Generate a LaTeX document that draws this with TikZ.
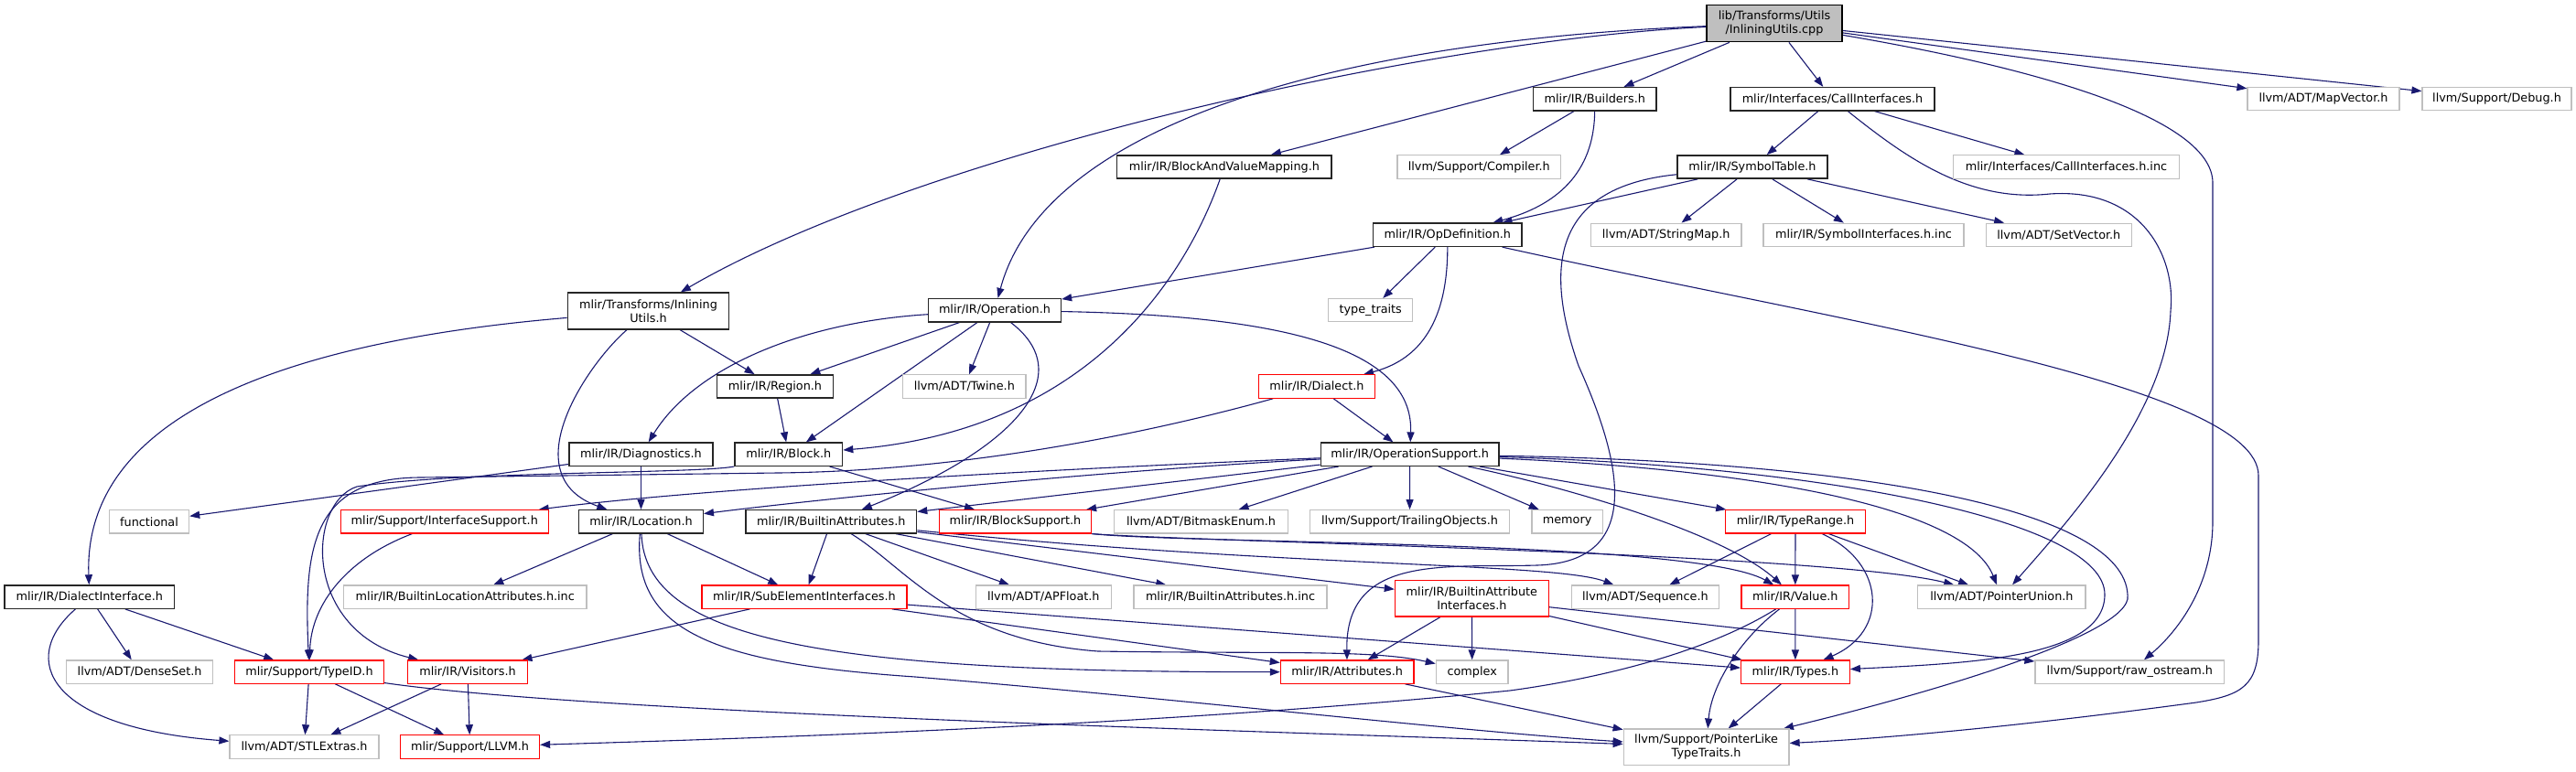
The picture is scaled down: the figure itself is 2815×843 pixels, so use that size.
\documentclass[tikz,border=0pt]{standalone}
\usepackage{fontspec}
\newfontfamily\dvs{DejaVu Sans}
\usetikzlibrary{arrows.meta}
\pgfdeclarelayer{bg}
\pgfsetlayers{bg,main}
\definecolor{edgeblue}{HTML}{191970}
\definecolor{gquarter}{HTML}{262626}
\definecolor{gthree}{HTML}{BFBFBF}
\tikzset{
  nbase/.style={rectangle, inner sep=0pt, minimum height=25.3pt, align=center,
    line width=1.2pt, fill=white, font=\dvs\fontsize{12.8}{15.3}\selectfont},
  blk/.style={nbase, draw=gquarter, line width=1.35pt},
  gry/.style={nbase, draw=gthree},
  rd/.style={nbase, draw=red},
  rootn/.style={nbase, draw=black, line width=1.35pt, fill=gthree},
  edg/.style={draw=edgeblue, line width=1.1pt, -{Triangle[length=11pt, width=8pt]}},
}
\begin{document}
\begin{tikzpicture}[x=1pt,y=-1pt]
\useasboundingbox (0,0) rectangle (2815,843);
% nodes
\node[rootn, minimum width=148pt, minimum height=40pt] (cpp) at (1939,25.7) {lib/Transforms/Utils\\/InliningUtils.cpp};
\node[blk, minimum width=134.5pt] (builders) at (1742.8,108.2) {mlir/IR/Builders.h};
\node[blk, minimum width=223pt] (callif) at (2002.5,108.2) {mlir/Interfaces/CallInterfaces.h};
\node[gry, minimum width=166pt] (mapvec) at (2539,108.2) {llvm/ADT/MapVector.h};
\node[gry, minimum width=163pt] (debug) at (2728.5,108.2) {llvm/Support/Debug.h};
\node[blk, minimum width=234.3pt] (bavm) at (1337.9,182.5) {mlir/IR/BlockAndValueMapping.h};
\node[gry, minimum width=178.5pt] (compiler) at (1616.3,182.5) {llvm/Support/Compiler.h};
\node[blk, minimum width=164pt] (symtab) at (1915,182.5) {mlir/IR/SymbolTable.h};
\node[gry, minimum width=246.6pt] (callinc) at (2258,182.5) {mlir/Interfaces/CallInterfaces.h.inc};
\node[blk, minimum width=162.4pt] (opdef) at (1581.8,256.8) {mlir/IR/OpDefinition.h};
\node[gry, minimum width=164.6pt] (strmap) at (1820.7,256.8) {llvm/ADT/StringMap.h};
\node[gry, minimum width=219pt] (syminc) at (2036.5,256.8) {mlir/IR/SymbolInterfaces.h.inc};
\node[gry, minimum width=159pt] (setvec) at (2249.8,256.8) {llvm/ADT/SetVector.h};
\node[blk, minimum width=176.4pt, minimum height=40pt] (transh) at (708.5,340) {mlir/Transforms/Inlining\\Utils.h};
\node[blk, minimum width=145pt] (operation) at (1087,339.2) {mlir/IR/Operation.h};
\node[gry, minimum width=92.2pt] (typetraits) at (1497.7,339.2) {type\_traits};
\node[blk, minimum width=126.7pt] (region) at (847,422.5) {mlir/IR/Region.h};
\node[gry, minimum width=134.5pt] (twine) at (1053.8,422.5) {llvm/ADT/Twine.h};
\node[rd, minimum width=126.6pt] (dialect) at (1439,422.5) {mlir/IR/Dialect.h};
\node[blk, minimum width=157pt] (diag) at (700.5,496.7) {mlir/IR/Diagnostics.h};
\node[blk, minimum width=117.7pt] (block) at (861.8,496.7) {mlir/IR/Block.h};
\node[blk, minimum width=194.7pt] (opsup) at (1540.7,496.7) {mlir/IR/OperationSupport.h};
\node[gry, minimum width=87.2pt] (functional) at (163,570.3) {functional};
\node[rd, minimum width=226.8pt] (ifsup) at (485.8,570.3) {mlir/Support/InterfaceSupport.h};
\node[blk, minimum width=135.6pt] (location) at (700.5,570.3) {mlir/IR/Location.h};
\node[blk, minimum width=186.7pt] (battr) at (908.3,570.3) {mlir/IR/BuiltinAttributes.h};
\node[rd, minimum width=166.3pt] (blksup) at (1109.5,570.3) {mlir/IR/BlockSupport.h};
\node[gry, minimum width=189.5pt] (bitmask) at (1312.5,570.3) {llvm/ADT/BitmaskEnum.h};
\node[gry, minimum width=217.6pt] (trailing) at (1540.5,570.3) {llvm/Support/TrailingObjects.h};
\node[gry, minimum width=77.2pt] (memory) at (1712.6,570.3) {memory};
\node[rd, minimum width=152.4pt] (typerange) at (1962,570.3) {mlir/IR/TypeRange.h};
\node[blk, minimum width=185.5pt] (dialif) at (97.8,652.6) {mlir/IR/DialectInterface.h};
\node[gry, minimum width=265.4pt] (blocinc) at (508.3,652.6) {mlir/IR/BuiltinLocationAttributes.h.inc};
\node[rd, minimum width=224pt] (subel) at (879,652.6) {mlir/IR/SubElementInterfaces.h};
\node[gry, minimum width=147.8pt] (apfloat) at (1140.3,652.6) {llvm/ADT/APFloat.h};
\node[gry, minimum width=211pt] (battrinc) at (1344.5,652.6) {mlir/IR/BuiltinAttributes.h.inc};
\node[rd, minimum width=168pt, minimum height=39.5pt] (bai) at (1608.4,654.3) {mlir/IR/BuiltinAttribute\\Interfaces.h};
\node[gry, minimum width=161.1pt] (sequence) at (1797.9,652.6) {llvm/ADT/Sequence.h};
\node[rd, minimum width=117.5pt] (value) at (1961.8,652.6) {mlir/IR/Value.h};
\node[gry, minimum width=183.3pt] (ptrunion) at (2187.4,652.6) {llvm/ADT/PointerUnion.h};
\node[gry, minimum width=160.3pt] (denseset) at (152.6,734.6) {llvm/ADT/DenseSet.h};
\node[rd, minimum width=162.5pt] (typeid) at (338,734.6) {mlir/Support/TypeID.h};
\node[rd, minimum width=131pt] (visitors) at (511,734.6) {mlir/IR/Visitors.h};
\node[rd, minimum width=145.7pt] (attrs) at (1472.2,734.6) {mlir/IR/Attributes.h};
\node[gry, minimum width=78.7pt] (complex) at (1608.7,734.6) {complex};
\node[rd, minimum width=118.7pt] (types) at (1961.9,734.6) {mlir/IR/Types.h};
\node[gry, minimum width=206.6pt] (rawos) at (2327.3,734.6) {llvm/Support/raw\_ostream.h};
\node[gry, minimum width=163pt] (stlextras) at (332.5,816.5) {llvm/ADT/STLExtras.h};
\node[rd, minimum width=151.9pt] (llvmh) at (513.6,816.5) {mlir/Support/LLVM.h};
\node[gry, minimum width=180.8pt, minimum height=39.3pt] (ptrlike) at (1864.6,816.7) {llvm/Support/PointerLike\\TypeTraits.h};
% edges
\begin{pgfonlayer}{bg}
\fill[white] (0,0) rectangle (2815,843);
% cpp
\draw[edg] (cpp) .. controls (1550,45) and (1000,170) .. (transh);
\draw[edg] (cpp) .. controls (1450,45) and (1140,140) .. (operation);
\draw[edg] (cpp) -- (bavm);
\draw[edg] (cpp) -- (builders);
\draw[edg] (cpp) -- (callif);
\draw[edg] (cpp) -- (mapvec);
\draw[edg] (cpp) -- (debug);
\draw[edg] (cpp) .. controls (2230,75) and (2418,130) .. (2418,200) -- (2418,570) .. controls (2418,640) and (2380,690) .. (rawos);
% transforms header
\draw[edg] (transh) .. controls (350,370) and (90,440) .. (dialif);
\draw[edg] (transh) -- (region);
\draw[edg] (transh) .. controls (640,400) and (560,520) .. (location);
% operation
\draw[edg] (operation) -- (region);
\draw[edg] (operation) -- (block);
\draw[edg] (operation) -- (twine);
\draw[edg] (operation) .. controls (880,352) and (760,400) .. (diag);
\draw[edg] (operation) .. controls (1400,345) and (1545,380) .. (opsup);
\draw[edg] (operation) .. controls (1180,410) and (1110,490) .. (battr);
% block and value mapping
\draw[edg] (bavm) .. controls (1300,290) and (1200,470) .. (block);
% builders
\draw[edg] (builders) -- (compiler);
\draw[edg] (builders) .. controls (1742,190) and (1700,225) .. (opdef);
% call interfaces
\draw[edg] (callif) -- (symtab);
\draw[edg] (callif) -- (callinc);
\draw[edg] (callif) .. controls (2080,170) and (2150,222) .. (2240,212) .. controls (2340,205) and (2378,280) .. (2372,340) .. controls (2368,450) and (2260,570) .. (ptrunion);
% symbol table
\draw[edg] (symtab) -- (opdef);
\draw[edg] (symtab) -- (strmap);
\draw[edg] (symtab) -- (syminc);
\draw[edg] (symtab) -- (setvec);
\draw[edg] (symtab) .. controls (1690,205) and (1690,300) .. (1725,400) .. controls (1770,500) and (1800,614) .. (1680,618) .. controls (1580,621) and (1470,605) .. (attrs);
% op definition
\draw[edg] (opdef) -- (operation);
\draw[edg] (opdef) -- (typetraits);
\draw[edg] (opdef) .. controls (1582,360) and (1545,395) .. (dialect);
\draw[edg] (opdef) .. controls (2000,350) and (2468,420) .. (2468,520) -- (2468,700) .. controls (2468,750) and (2450,760) .. (2400,768) .. controls (2200,795) and (2050,808) .. (ptrlike);
% dialect
\draw[edg] (dialect) -- (opsup);
\draw[edg] (dialect) .. controls (1250,475) and (1050,515) .. (850,517) -- (460,522) .. controls (340,522) and (332,600) .. (typeid);
% region, block, diagnostics
\draw[edg] (region) -- (block);
\draw[edg] (block) -- (blksup);
\draw[edg] (block.south west) .. controls (760,518) and (500,515) .. (390,532) .. controls (335,550) and (330,690) .. (visitors);
\draw[edg] (diag) -- (location);
\draw[edg] (diag) -- (functional);
% operation support
\draw[edg] (opsup) .. controls (1100,515) and (760,535) .. (ifsup);
\draw[edg] (opsup) .. controls (1200,515) and (900,545) .. (location);
\draw[edg] (opsup) -- (battr);
\draw[edg] (opsup) -- (blksup);
\draw[edg] (opsup) -- (bitmask);
\draw[edg] (opsup) -- (trailing);
\draw[edg] (opsup) -- (memory);
\draw[edg] (opsup) -- (typerange);
\draw[edg] (opsup) .. controls (1700,530) and (1880,580) .. (value);
\draw[edg] (opsup) .. controls (1950,515) and (2150,560) .. (ptrunion);
\draw[edg] (opsup) .. controls (2000,510) and (2300,570) .. (2300,650) .. controls (2300,720) and (2150,725) .. (types);
\draw[edg] (opsup) .. controls (2050,505) and (2330,560) .. (2325,655) .. controls (2315,700) and (2080,765) .. (ptrlike);
% type range
\draw[edg] (typerange) -- (sequence);
\draw[edg] (typerange) -- (value);
\draw[edg] (typerange) .. controls (2060,615) and (2065,690) .. (types);
\draw[edg] (typerange) -- (ptrunion);
% builtin attributes
\draw[edg] (battr) -- (subel);
\draw[edg] (battr) -- (apfloat);
\draw[edg] (battr) -- (battrinc);
\draw[edg] (battr) -- (bai);
\draw[edg] (battr) .. controls (1400,620) and (1700,615) .. (sequence);
\draw[edg] (battr) .. controls (990,620) and (1040,700) .. (1200,712) .. controls (1400,715) and (1500,710) .. (complex);
% block support
\draw[edg] (blksup.south east) .. controls (1300,595) and (1850,590) .. (value);
\draw[edg] (blksup.south east) .. controls (1300,592) and (2000,605) .. (ptrunion);
% location
\draw[edg] (location) -- (blocinc);
\draw[edg] (location) -- (subel);
\draw[edg] (location) .. controls (705,700) and (900,735) .. (attrs);
\draw[edg] (location) .. controls (690,690) and (780,725) .. (1000,740) .. controls (1300,765) and (1600,800) .. (ptrlike);
% interface support
\draw[edg] (ifsup) .. controls (380,610) and (340,660) .. (typeid);
% sub element interfaces
\draw[edg] (subel) -- (attrs);
\draw[edg] (subel) -- (types);
\draw[edg] (subel) -- (visitors);
% builtin attribute interfaces
\draw[edg] (bai) -- (attrs);
\draw[edg] (bai) -- (complex);
\draw[edg] (bai) -- (types);
\draw[edg] (bai) -- (rawos);
% value
\draw[edg] (value) -- (types);
\draw[edg] (value) .. controls (1900,700) and (1870,750) .. (ptrlike);
\draw[edg] (value) .. controls (1870,710) and (1760,740) .. (1650,755) .. controls (1300,790) and (900,805) .. (llvmh);
% types, attributes
\draw[edg] (types) -- (ptrlike);
\draw[edg] (attrs) -- (ptrlike);
% dialect interface
\draw[edg] (dialif) -- (denseset);
\draw[edg] (dialif) -- (typeid);
\draw[edg] (dialif) .. controls (20,720) and (50,795) .. (stlextras);
% type id
\draw[edg] (typeid) -- (stlextras);
\draw[edg] (typeid) -- (llvmh);
\draw[edg] (typeid) .. controls (650,780) and (1400,800) .. (ptrlike);
% visitors
\draw[edg] (visitors) -- (stlextras);
\draw[edg] (visitors) -- (llvmh);
\end{pgfonlayer}
\end{tikzpicture}
\end{document}
